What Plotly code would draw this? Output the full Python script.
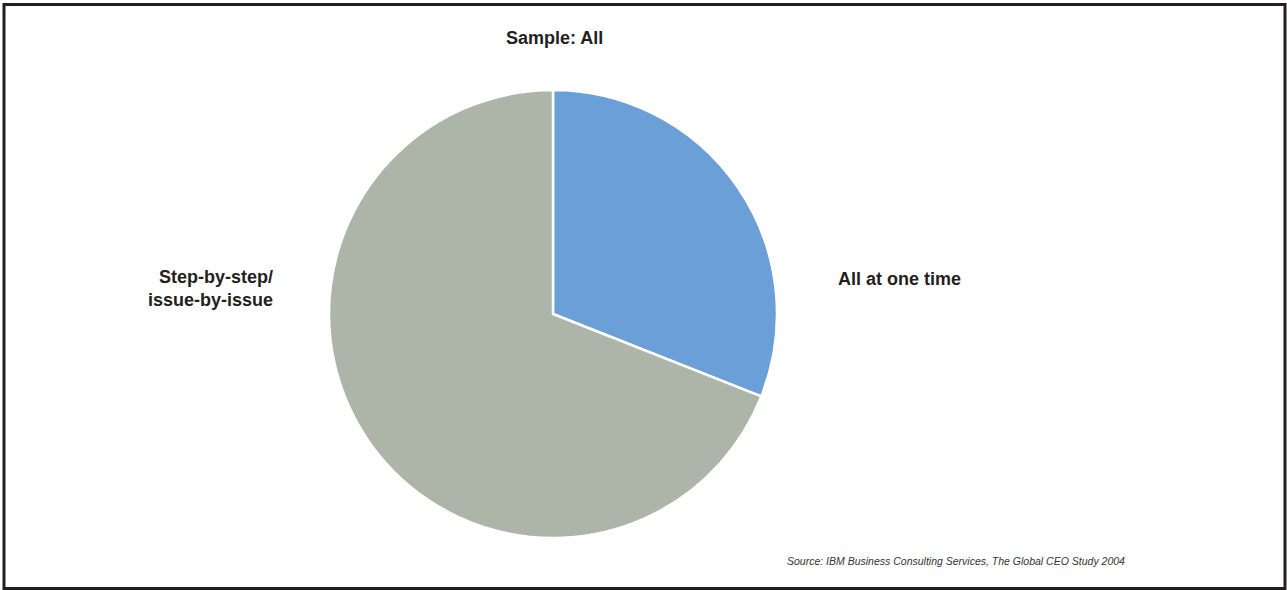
import plotly.graph_objects as go

categories = ["All at one time", "Step-by-step/<br>issue-by-issue"]
values = [31, 69]
slice_colors = ["#6a9fd8", "#adb5a9"]

W, H = 1287, 590
TXT = "#231f20"
FONT = "Liberation Sans, Arial, Helvetica, sans-serif"


def px_x(x):
    return x / W


def px_y(y):
    return 1 - y / H


fig = go.Figure()
fig.add_trace(go.Pie(
    labels=categories,
    values=values,
    sort=False,
    direction="clockwise",
    rotation=0,
    marker=dict(colors=slice_colors, line=dict(color="white", width=2.5)),
    textinfo="none",
    hoverinfo="label+percent",
    showlegend=False,
    domain=dict(x=[px_x(329), px_x(777)], y=[px_y(538), px_y(90)]),
))

annotations = [
    dict(text="<b>Sample: All</b>", x=px_x(554), y=px_y(38), xanchor="center", yanchor="middle",
         font=dict(size=18, color=TXT, family=FONT), showarrow=False),
    dict(text="<b>All at one time</b>", x=px_x(836), y=px_y(279), xanchor="left", yanchor="middle",
         font=dict(size=18, color=TXT, family=FONT), showarrow=False),
    dict(text="<b>Step-by-step/<br>issue-by-issue</b>", x=px_x(275), y=px_y(288), xanchor="right", yanchor="middle",
         align="right", font=dict(size=18, color=TXT, family=FONT), showarrow=False),
    dict(text="<i>Source: IBM Business Consulting Services, The Global CEO Study 2004</i>",
         x=px_x(785), y=px_y(561), xanchor="left", yanchor="middle",
         font=dict(size=10.5, color="#333333", family=FONT), showarrow=False),
]
for a in annotations:
    a["xref"] = "paper"
    a["yref"] = "paper"

fig.update_layout(
    width=W, height=H,
    margin=dict(l=0, r=0, t=0, b=0),
    paper_bgcolor="white",
    plot_bgcolor="white",
    annotations=annotations,
    shapes=[dict(type="rect", xref="paper", yref="paper",
                 x0=px_x(4), x1=px_x(1285), y0=px_y(588.5), y1=px_y(4.5),
                 line=dict(color=TXT, width=3), fillcolor="rgba(0,0,0,0)")],
)

# remove the browser's default 8px body margin so the figure sits at the page origin
fig.write_html(
    "out.html",
    config={"displayModeBar": False},
    post_script="document.body.style.margin='0';document.body.style.overflow='hidden';",
)
